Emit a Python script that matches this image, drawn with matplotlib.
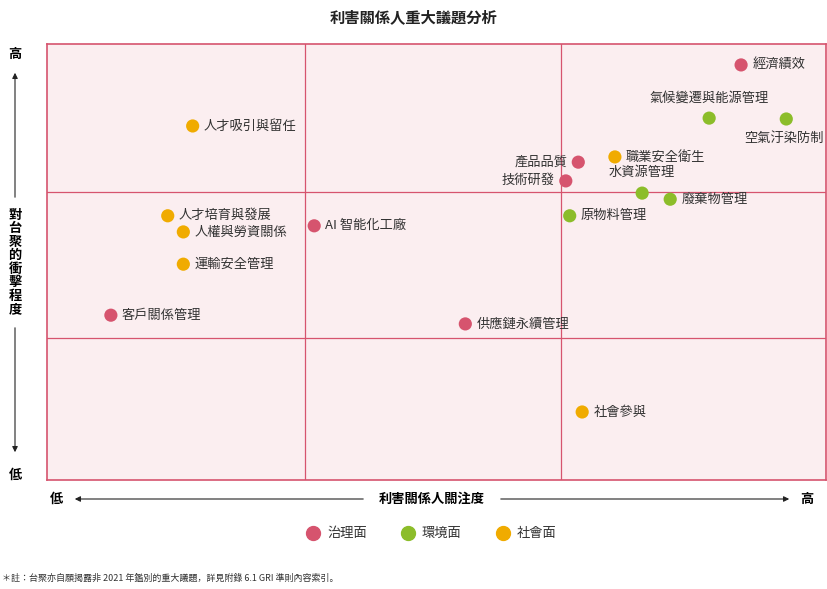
import matplotlib
matplotlib.use("Agg")
import matplotlib.pyplot as plt

plt.rcParams["font.family"] = ["Noto Sans CJK JP", "Noto Sans CJK TC", "Noto Sans CJK SC", "DejaVu Sans"]

names = ["經濟績效", "氣候變遷與能源管理", "空氣汙染防制", "人才吸引與留任", "產品品質", "職業安全衛生",
         "技術研發", "水資源管理", "廢棄物管理", "原物料管理", "人才培育與發展", "人權與勞資關係",
         "AI 智能化工廠", "運輸安全管理", "客戶關係管理", "供應鏈永續管理", "社會參與"]
impact_x = [8.91, 8.50, 9.49, 1.87, 6.82, 7.29, 6.66, 7.64, 8.00, 6.71, 1.55, 1.75, 3.43, 1.75, 0.82, 5.37, 6.87]
impact_y = [9.52, 8.30, 8.28, 8.12, 7.29, 7.41, 6.86, 6.58, 6.44, 6.06, 6.06, 5.69, 5.83, 4.95, 3.78, 3.58, 1.56]
groups = ["治理面", "環境面", "環境面", "社會面", "治理面", "社會面", "治理面", "環境面", "環境面", "環境面",
          "社會面", "社會面", "治理面", "社會面", "治理面", "治理面", "社會面"]
label_pos = ["right", "above", "below", "right", "left", "right", "left", "above", "right", "right",
             "right", "right", "right", "right", "right", "right", "right"]
group_names = ["治理面", "環境面", "社會面"]
colors = {"治理面": "#d6546e", "環境面": "#8cbd2a", "社會面": "#f0ab00"}
grid_x = [3.31, 6.60]
grid_y = [3.26, 6.61]

fig = plt.figure(figsize=(8.27, 5.89), dpi=100)
ax = fig.add_axes([47/827, 109/589, 779/827, 436/589])
ax.set_xlim(0, 10); ax.set_ylim(0, 10)
ax.set_facecolor("#fbeef0")
for s in ax.spines.values():
    s.set_color("#d6546e"); s.set_linewidth(1.2)
ax.set_xticks([]); ax.set_yticks([])
for g in grid_x:
    ax.axvline(g, color="#d6546e", lw=0.9)
for g in grid_y:
    ax.axhline(g, color="#d6546e", lw=0.9)

for n, x, y, g, p in zip(names, impact_x, impact_y, groups, label_pos):
    ax.scatter(x, y, s=90, color=colors[g], zorder=3, edgecolors="none")
    if p == "right":
        ax.annotate(n, (x, y), xytext=(8, 0), textcoords="offset points", va="center", ha="left", fontsize=9.5, color="#333333")
    elif p == "left":
        ax.annotate(n, (x, y), xytext=(-8, 0), textcoords="offset points", va="center", ha="right", fontsize=9.5, color="#333333")
    elif p == "above":
        ax.annotate(n, (x, y), xytext=(0, 10), textcoords="offset points", va="bottom", ha="center", fontsize=9.5, color="#333333")
    else:
        ax.annotate(n, (x, y), xytext=(-30, -9), textcoords="offset points", va="top", ha="left", fontsize=9.5, color="#333333")

fig.text(0.5, 1 - 17/589, "利害關係人重大議題分析", ha="center", va="center", fontsize=11, fontweight="bold", color="#222222")

def fx(px): return px/827
def fy(py): return 1 - py/589

fig.text(fx(56), fy(499), "低", ha="center", va="center", fontsize=9.5, fontweight="bold")
fig.text(fx(807), fy(499), "高", ha="center", va="center", fontsize=9.5, fontweight="bold")
fig.text(fx(432), fy(499), "利害關係人關注度", ha="center", va="center", fontsize=9.5, fontweight="bold")
arrow = dict(arrowstyle="-|>", color="#222222", lw=0.8, mutation_scale=8)
fig.add_artist(matplotlib.patches.FancyArrowPatch((fx(366), fy(499)), (fx(72), fy(499)), transform=fig.transFigure, **arrow))
fig.add_artist(matplotlib.patches.FancyArrowPatch((fx(498), fy(499)), (fx(792), fy(499)), transform=fig.transFigure, **arrow))

fig.text(fx(15), fy(54), "高", ha="center", va="center", fontsize=9.5, fontweight="bold")
fig.text(fx(15), fy(475), "低", ha="center", va="center", fontsize=9.5, fontweight="bold")
fig.text(fx(15), fy(262), "\n".join("對台聚的衝擊程度"), ha="center", va="center", fontsize=9.5, fontweight="bold", linespacing=0.95)
fig.add_artist(matplotlib.patches.FancyArrowPatch((fx(15), fy(200)), (fx(15), fy(70)), transform=fig.transFigure, **arrow))
fig.add_artist(matplotlib.patches.FancyArrowPatch((fx(15), fy(325)), (fx(15), fy(455)), transform=fig.transFigure, **arrow))

for g, px in zip(group_names, [313, 408, 503]):
    fig.add_artist(matplotlib.lines.Line2D([fx(px)], [fy(533)], marker="o", markersize=10, color=colors[g], transform=fig.transFigure, linestyle="none"))
    fig.text(fx(px + 14), fy(533), g, ha="left", va="center", fontsize=9.5, color="#333333")

fig.text(fx(2), fy(578), "＊註：台聚亦自願揭露非 2021 年鑑別的重大議題，詳見附錄 6.1 GRI 準則內容索引。", ha="left", va="center", fontsize=6.5, color="#333333")

fig.savefig("out.png", dpi=100)
